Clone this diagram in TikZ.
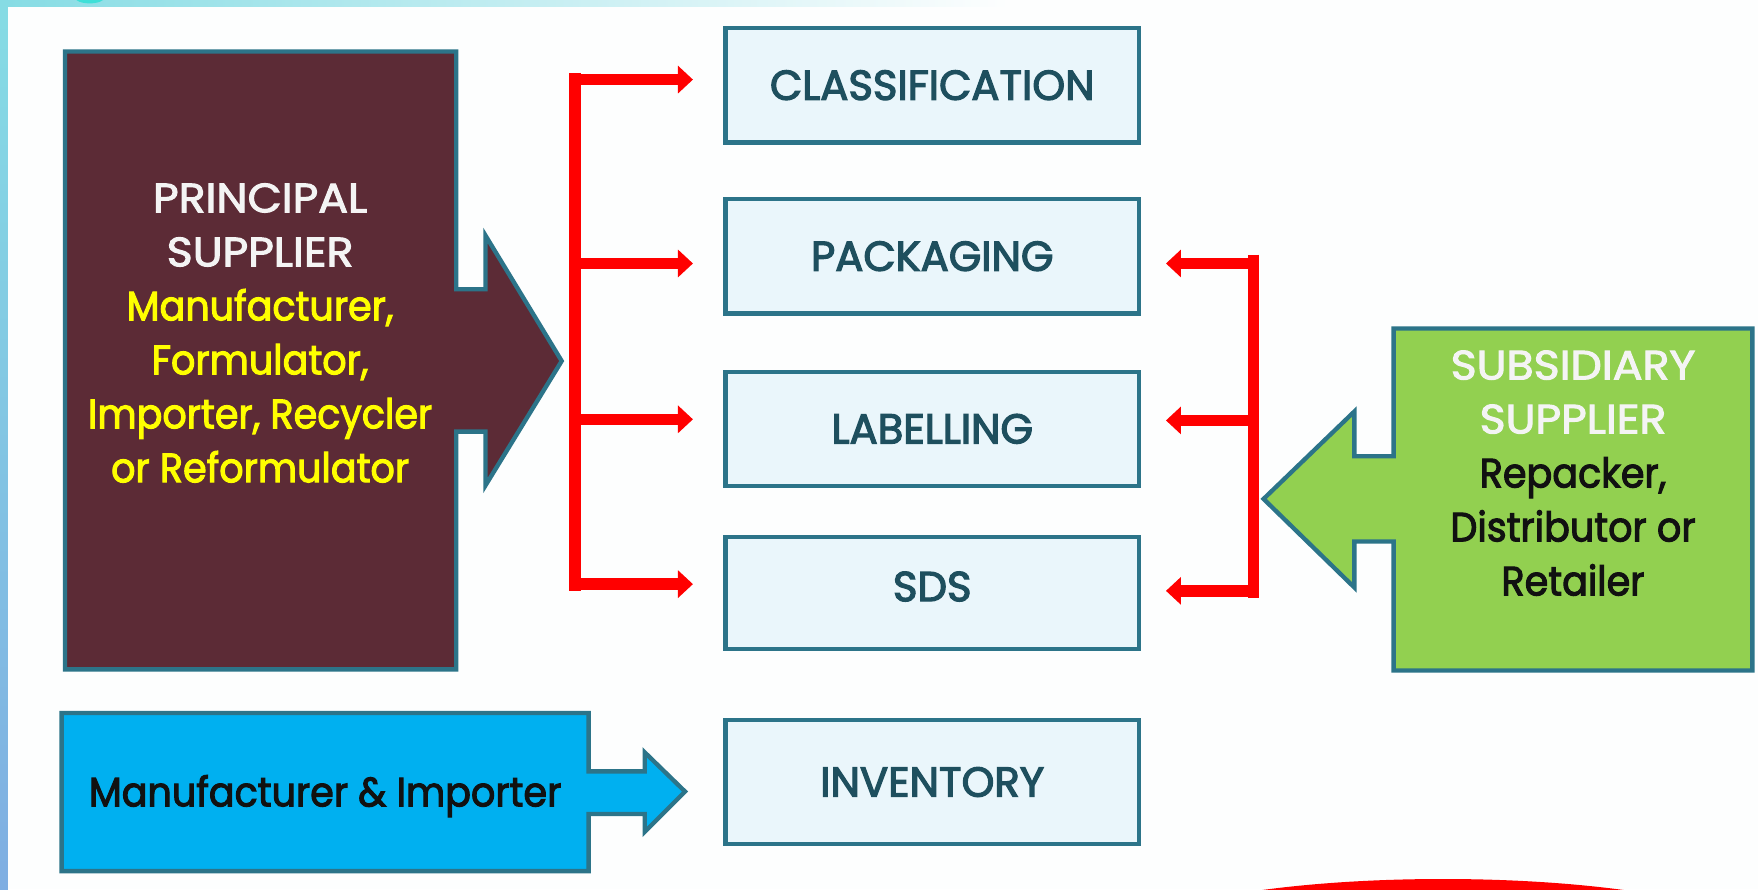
\documentclass[tikz,border=0pt]{standalone}
\usepackage{fontspec}
\setmainfont{Poppins}
\newfontfamily\semib{Poppins}[FakeBold=3]
\newfontfamily\capfont{Poppins}[FakeBold=2.5,FakeStretch=1.08]
\newfontfamily\lcfont{Poppins}[FakeBold=2.5,FakeStretch=0.93]
\usetikzlibrary{arrows.meta,calc}
\definecolor{bgwhite}{HTML}{FDFEFE}
\definecolor{edgecyan}{HTML}{86DCE4}
\definecolor{edgeblue}{HTML}{7FAEE2}
\definecolor{spotcyan}{HTML}{3EE0D8}
\definecolor{boxfill}{HTML}{EAF6FB}
\definecolor{boxline}{HTML}{2C7489}
\definecolor{boxtext}{HTML}{1E4F5E}
\definecolor{princfill}{HTML}{5C2B36}
\definecolor{subfill}{HTML}{92D050}
\definecolor{mifill}{HTML}{00B0F0}
\definecolor{connred}{HTML}{FF0000}
\definecolor{ylw}{HTML}{FFFF00}
\definecolor{softwhite}{HTML}{F4F4F4}
\definecolor{inkblack}{HTML}{111111}
\begin{document}
\begin{tikzpicture}[x=0.1mm,y=-0.1mm,
  dutybox/.style={draw=boxline,line width=1.1pt,fill=boxfill,minimum width=36.9mm,minimum height=10.2mm,inner sep=0pt,text=boxtext,font=\semib\fontsize{10.6}{12}\selectfont},
  actorshape/.style={draw=boxline,line width=1.1pt,line join=miter},
  actortext/.style={align=center,inner sep=0pt,font=\fontsize{10.4}{13.7}\selectfont},
  redbar/.style={draw=connred,line width=2.9pt},
  redarrow/.style={draw=connred,line width=2.9pt,-{Triangle[length=3.8pt,width=6.8pt]}}]
\useasboundingbox (0,0) rectangle (1568,793);
% background
\fill[bgwhite] (0,0) rectangle (1568,793);
\shade[left color=edgecyan,right color=bgwhite] (0,0) rectangle (900,6);
\shade[top color=edgecyan,bottom color=edgeblue] (0,0) rectangle (7,793);
\fill[spotcyan] (80,-2) ellipse [x radius=1.3mm, y radius=0.5mm];
\begin{scope}
  \clip (0,0) rectangle (1568,793);
  \fill[connred] (1287,844) ellipse [x radius=29.4mm, y radius=6mm];
\end{scope}
% duty boxes
\node[dutybox] (cls) at (831.5,76) {\raisebox{-0.2mm}{CLASSIFICATION}};
\node[dutybox] (pkg) at (831.5,228.5) {\raisebox{-0.2mm}{PACKAGING}};
\node[dutybox] (lab) at (831.5,382.5) {LABELLING};
\node[dutybox,minimum height=10mm] (sds) at (831.5,529) {\raisebox{1.2mm}{SDS}};
\node[dutybox,minimum height=11.1mm] (inv) at (831.5,697.5) {INVENTORY};
% principal supplier
\path[actorshape,fill=princfill] (58,46) -- (407,46) -- (407,258) -- (433,258) -- (433,210) -- (501,322) -- (433,433) -- (433,385) -- (407,385) -- (407,597) -- (58,597) -- cycle;
\node[actortext] (princ) at (232,297) {%
  \color{softwhite}\capfont PRINCIPAL\\
  \color{softwhite}\capfont SUPPLIER\\
  \color{ylw}\lcfont Manufacturer,\\
  \color{ylw}\lcfont Formulator,\\
  \color{ylw}\lcfont Importer, Recycler\\
  \color{ylw}\lcfont or Reformulator};
% subsidiary supplier
\path[actorshape,fill=subfill] (1563,293) -- (1243,293) -- (1243,407) -- (1208,407) -- (1208,367) -- (1127,445) -- (1208,524) -- (1208,483) -- (1243,483) -- (1243,598) -- (1563,598) -- cycle;
\node[actortext] (subs) at (1403,422) {%
  \color{softwhite}\capfont SUBSIDIARY\\
  \color{softwhite}\capfont SUPPLIER\\
  \color{inkblack}\lcfont Repacker,\\
  \color{inkblack}\lcfont Distributor or\\
  \color{inkblack}\lcfont Retailer};
% manufacturer & importer
\path[actorshape,fill=mifill] (55,636) -- (525,636) -- (525,688) -- (575,688) -- (575,671) -- (611,706) -- (575,742) -- (575,726) -- (525,726) -- (525,777) -- (55,777) -- cycle;
\node[actortext,text=inkblack,font=\lcfont\fontsize{10.4}{13.7}\selectfont] (mi) at (290,710) {Manufacturer \& Importer};
% left red distributor
\draw[redbar] (513,65) -- (513,527);
\foreach \n/\y in {cls/71,pkg/235,lab/374,sds/521}{
  \coordinate (la\n) at (513,\y);
  \draw[redarrow,shorten >=2.7mm] (la\n) -- (la\n -| \n.west);
}
% right red distributor
\draw[redbar] (1118,227) -- (1118,533);
\foreach \n/\y in {pkg/235,lab/375,sds/527}{
  \coordinate (ra\n) at (1118,\y);
  \draw[redarrow,shorten >=2.2mm] (ra\n) -- (ra\n -| \n.east);
}
\end{tikzpicture}
\end{document}
